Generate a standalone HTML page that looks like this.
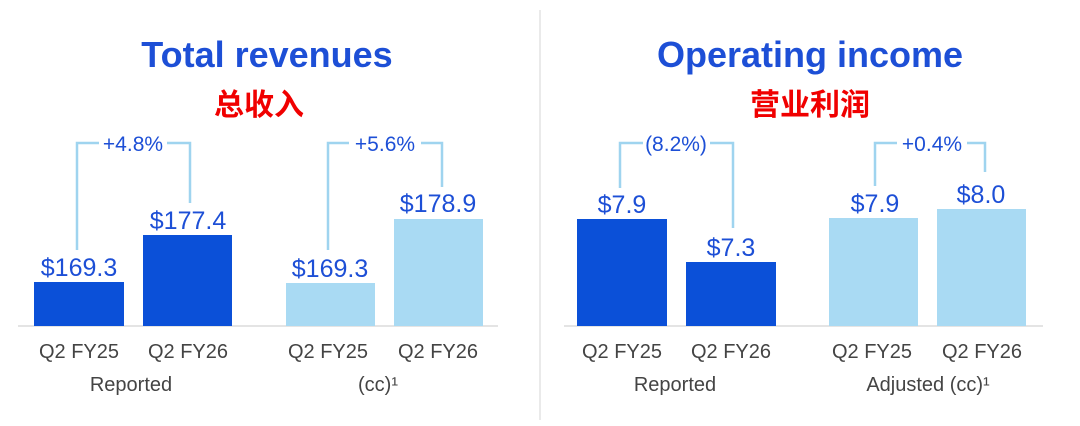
<!DOCTYPE html>
<html><head><meta charset="utf-8"><style>
html,body{margin:0;padding:0;background:#fff}
svg{display:block}
</style></head><body>
<svg width="1080" height="426" viewBox="0 0 1080 426" xmlns="http://www.w3.org/2000/svg" font-family="Liberation Sans, sans-serif">
<rect width="1080" height="426" fill="#fff"/>
<line x1="540" y1="10" x2="540" y2="420" stroke="#e4e4e4" stroke-width="1.5"/>
<g font-weight="bold" text-anchor="middle">
<text x="267" y="67" font-size="36" fill="#1d4fd6">Total revenues</text>
<text x="810" y="67" font-size="36" fill="#1d4fd6">Operating income</text>
<text x="259" y="115" font-size="30" fill="#f00000" font-family="Liberation Sans, Noto Sans CJK SC, sans-serif">总收入</text>
<text x="810" y="115" font-size="30" fill="#f00000" font-family="Liberation Sans, Noto Sans CJK SC, sans-serif">营业利润</text>
</g>
<g stroke="#dcdcdc" stroke-width="1.5"><line x1="18" y1="326" x2="498" y2="326"/><line x1="564" y1="326" x2="1043" y2="326"/></g>
<g fill="#0b50d8">
<rect x="34" y="282" width="90" height="44"/><rect x="143" y="235" width="89" height="91"/>
<rect x="577" y="219" width="90" height="107"/><rect x="686" y="262" width="90" height="64"/>
</g>
<g fill="#a9daf3">
<rect x="286" y="283" width="89" height="43"/><rect x="394" y="219" width="89" height="107"/>
<rect x="829" y="218" width="89" height="108"/><rect x="937" y="209" width="89" height="117"/>
</g>
<g fill="none" stroke="#9fd4ef" stroke-width="2.5">
<polyline points="77,250 77,143 99,143"/><polyline points="167,143 190,143 190,203"/>
<polyline points="328,250 328,143 349,143"/><polyline points="421,143 442,143 442,187"/>
<polyline points="620,188 620,143 643,143"/><polyline points="710,143 733,143 733,228"/>
<polyline points="875,186 875,143 897,143"/><polyline points="967,143 985,143 985,172"/>
</g>
<g fill="#1d4fd6" text-anchor="middle" font-size="21">
<text x="133" y="151">+4.8%</text><text x="385" y="151">+5.6%</text>
<text x="676" y="151">(8.2%)</text><text x="932" y="151">+0.4%</text>
</g>
<g fill="#1d4fd6" text-anchor="middle" font-size="25">
<text x="79" y="276">$169.3</text><text x="188" y="229">$177.4</text>
<text x="330" y="277">$169.3</text><text x="438" y="212">$178.9</text>
<text x="622" y="213">$7.9</text><text x="731" y="256">$7.3</text>
<text x="875" y="212">$7.9</text><text x="981" y="203">$8.0</text>
</g>
<g fill="#444" text-anchor="middle" font-size="20">
<text x="79" y="358">Q2 FY25</text><text x="188" y="358">Q2 FY26</text>
<text x="328" y="358">Q2 FY25</text><text x="438" y="358">Q2 FY26</text>
<text x="622" y="358">Q2 FY25</text><text x="731" y="358">Q2 FY26</text>
<text x="872" y="358">Q2 FY25</text><text x="982" y="358">Q2 FY26</text>
<text x="131" y="391">Reported</text><text x="378" y="391">(cc)¹</text>
<text x="675" y="391">Reported</text><text x="928" y="391">Adjusted (cc)¹</text>
</g>
</svg>
</body></html>
